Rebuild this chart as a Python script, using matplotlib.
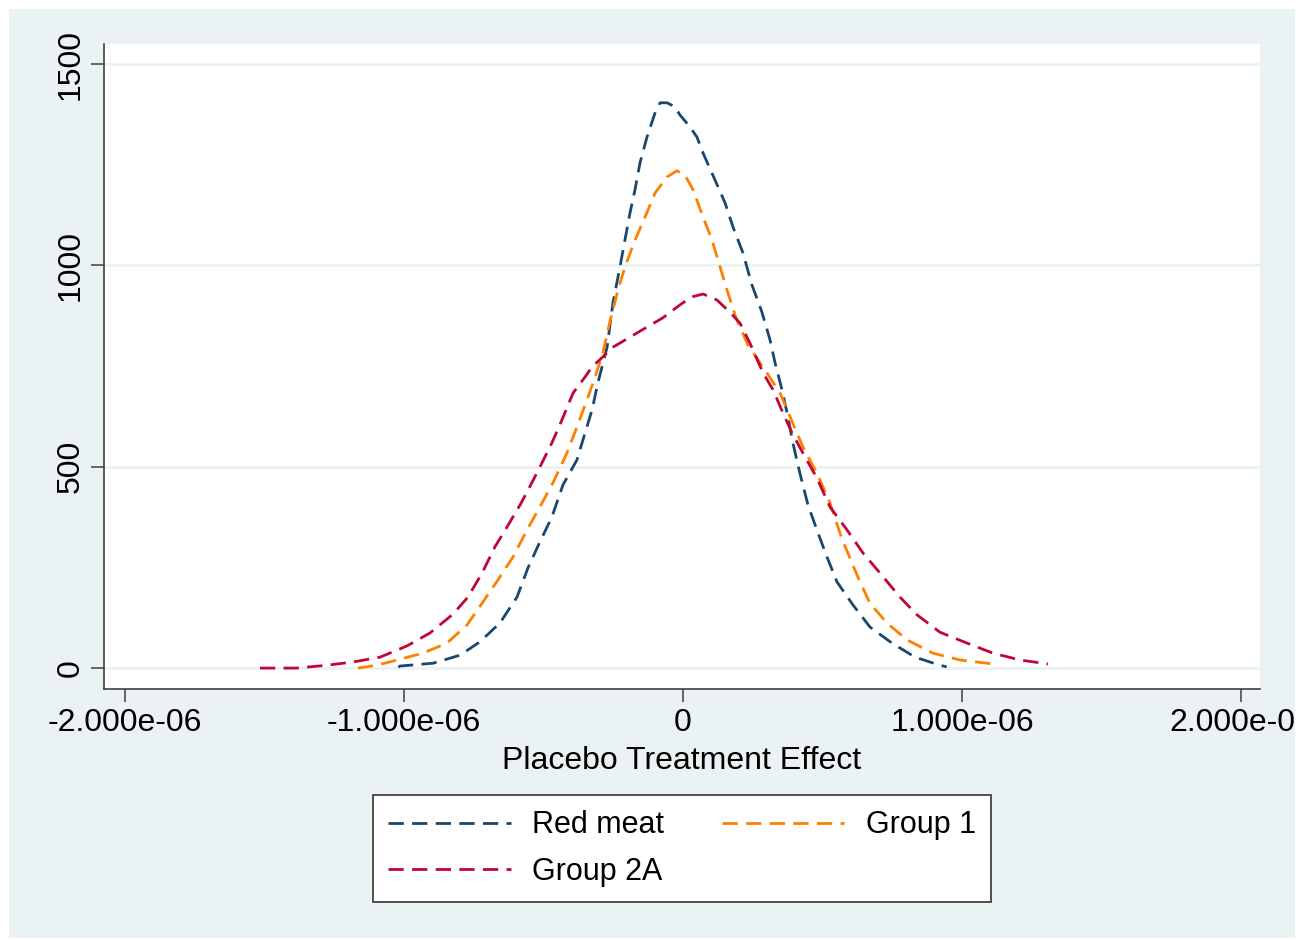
import matplotlib.pyplot as plt
from matplotlib.patches import Rectangle
from matplotlib.ticker import FuncFormatter
import numpy as np

plt.rcParams['font.family'] = ['Liberation Sans', 'DejaVu Sans']

# ======================================================
# 데이터 (x 단위: 1e-06)
# ======================================================
red_meat_x = [-1.02, -1.014, -0.896, -0.799, -0.728, -0.656, -0.595, -0.556, -0.513, -0.470,
              -0.430, -0.380, -0.351, -0.326, -0.305, -0.272, -0.251, -0.226, -0.208, -0.190,
              -0.172, -0.154, -0.129, -0.100, -0.082, -0.057, -0.029, -0.011, 0.025, 0.050,
              0.072, 0.115, 0.151, 0.179, 0.215, 0.247, 0.283, 0.312, 0.330, 0.355,
              0.376, 0.394, 0.419, 0.448, 0.480, 0.516, 0.552, 0.609, 0.670, 0.749,
              0.832, 0.921, 0.945]
red_meat_y = [2, 5, 12, 32, 65, 112, 176, 248, 313, 375,
              455, 517, 584, 641, 708, 797, 907, 996, 1063, 1130,
              1188, 1255, 1319, 1379, 1404, 1404, 1394, 1374, 1344, 1319,
              1279, 1212, 1155, 1096, 1031, 952, 884, 815, 758, 691,
              624, 559, 484, 405, 343, 276, 214, 157, 102, 62,
              27, 7, 3]

group1_x = [-1.165, -1.097, -1.025, -0.932, -0.846, -0.774, -0.717, -0.663, -0.609, -0.559,
            -0.513, -0.466, -0.416, -0.380, -0.344, -0.315, -0.287, -0.262, -0.233, -0.208,
            -0.172, -0.136, -0.100, -0.057, -0.022, 0.007, 0.036, 0.072, 0.104, 0.133,
            0.161, 0.190, 0.233, 0.301, 0.348, 0.384, 0.430, 0.480, 0.527, 0.570,
            0.627, 0.670, 0.731, 0.803, 0.896, 0.993, 1.090, 1.111]
group1_y = [0, 7, 20, 37, 62, 107, 164, 219, 276, 343,
            400, 460, 534, 599, 666, 723, 783, 860, 939, 996,
            1063, 1120, 1180, 1220, 1235, 1225, 1188, 1120, 1063, 996,
            932, 870, 802, 733, 683, 624, 549, 484, 410, 320,
            226, 161, 112, 70, 37, 20, 12, 10]

group2a_x = [-1.516, -1.384, -1.276, -1.183, -1.086, -0.989, -0.907, -0.824, -0.771, -0.720,
             -0.674, -0.631, -0.584, -0.559, -0.513, -0.470, -0.434, -0.394, -0.351, -0.326,
             -0.287, -0.251, -0.190, -0.129, -0.072, -0.011, 0.032, 0.072, 0.122, 0.168,
             0.204, 0.240, 0.287, 0.323, 0.358, 0.391, 0.430, 0.480, 0.527, 0.588,
             0.645, 0.706, 0.778, 0.839, 0.921, 1.018, 1.111, 1.208, 1.290, 1.308]
group2a_y = [0, 0, 7, 15, 27, 55, 87, 134, 176, 236,
             301, 350, 405, 437, 499, 559, 616, 683, 723, 748,
             773, 797, 822, 847, 870, 902, 922, 929, 914, 884,
             857, 807, 733, 691, 634, 584, 534, 472, 400, 343,
             286, 236, 176, 132, 89, 62, 37, 20, 12, 10]

series = [
    ("Red meat", red_meat_x, red_meat_y, '#1a476f'),
    ("Group 1", group1_x, group1_y, '#ff7f00'),
    ("Group 2A", group2a_x, group2a_y, '#c10534'),
]

x_ticks = [-2e-06, -1e-06, 0, 1e-06, 2e-06]
y_ticks = [0, 500, 1000, 1500]

bg = '#eaf2f3'

# ======================================================
# 그래프
# ======================================================
fig = plt.figure(figsize=(13, 9.4), dpi=100)
fig.patch.set_facecolor('white')
fig.add_artist(Rectangle((9 / 1300, 2 / 940), 1286 / 1300, 929 / 940,
                         transform=fig.transFigure, facecolor=bg, edgecolor='none', zorder=-10))

ax = fig.add_axes([104 / 1300, 1 - 689 / 940, 1156 / 1300, 645 / 940])
ax.set_facecolor('white')

lines = {}
for label, xs, ys, color in series:
    ln, = ax.plot(np.array(xs) * 1e-06, ys, color=color, lw=2.0, dashes=(5.5, 3.0), label=label)
    lines[label] = ln

ax.set_xlim(-2.075e-06, 2.068e-06)
ax.set_ylim(-52, 1550)
ax.set_xticks(x_ticks)
ax.set_yticks(y_ticks)
ax.xaxis.set_major_formatter(FuncFormatter(lambda v, p: '0' if abs(v) < 1e-12 else f'{v:.3e}'))
ax.yaxis.set_major_formatter(FuncFormatter(lambda v, p: f'{int(v)}'))

for yv in y_ticks:
    ax.axhline(yv, color=bg, lw=2, zorder=0)

for s in ['top', 'right']:
    ax.spines[s].set_visible(False)
for s in ['left', 'bottom']:
    ax.spines[s].set_color('#404040')
    ax.spines[s].set_linewidth(1.2)

ax.tick_params(axis='both', length=9.5, width=1.1, color='#404040', labelsize=23, pad=4)
ax.tick_params(axis='y', labelrotation=90, pad=4)
for t in ax.get_yticklabels():
    t.set_va('center')

ax.set_xlabel("Placebo Treatment Effect", fontsize=23, labelpad=6)

# 행 우선 순서로 보이도록 (ncol=2 는 열 우선)
order = ["Red meat", "Group 2A", "Group 1"]
leg = ax.legend([lines[k] for k in order], order,
                loc='upper center', bbox_to_anchor=(682 / 1300, 1 - 795 / 940),
                bbox_transform=fig.transFigure, ncol=2, fontsize=22, frameon=True,
                fancybox=False, framealpha=1, handlelength=4.0, handletextpad=0.7,
                columnspacing=1.9, labelspacing=0.55, borderpad=0.5, borderaxespad=0)
leg.get_frame().set_edgecolor('#333333')
leg.get_frame().set_linewidth(1.2)

# 오른쪽 잘린 부분
fig.add_artist(Rectangle((1295 / 1300, 0), 5 / 1300, 1, transform=fig.transFigure,
                         facecolor='white', edgecolor='none', zorder=20))

plt.savefig('out.png', dpi=100)
